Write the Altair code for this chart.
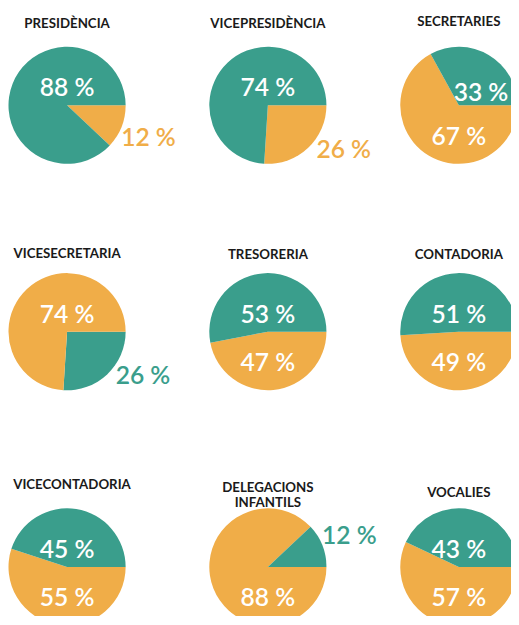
import math
import altair as alt
import pandas as pd

# ---- data ----
panels = [
    ["PRESIDÈNCIA"], ["VICEPRESIDÈNCIA"], ["SECRETARIES"],
    ["VICESECRETARIA"], ["TRESORERIA"], ["CONTADORIA"],
    ["VICECONTADORIA"], ["DELEGACIONS", "INFANTILS"], ["VOCALIES"],
]
teal_pct = [88, 74, 33, 26, 53, 51, 45, 12, 43]
orange_pct = [12, 26, 67, 74, 47, 49, 55, 88, 57]
# which slice is drawn first, clockwise from 3 o'clock
first_slice = ["taronja", "taronja", "taronja", "verd", "taronja",
               "taronja", "taronja", "taronja", "taronja"]

# ---- styles / layout ----
TEAL = "#3a9e8c"
ORANGE = "#f0ad48"
groups = ["verd", "taronja"]
col_widths = [120, 288, 100]
row_heights = [120, 120, 138]
pie_r = 59.5
title_offsets = [16.3, 16.3, 18.3, 12.3, 11.3, 11.0, 7.3, -10.7, -0.7]
title_dx = [0, 0, 0, 0, 0, 0, 5, 0, 0]
SVG_W, SVG_H, TOP = 511, 608, 34

color_scale = alt.Scale(domain=groups, range=[TEAL, ORANGE])
theta_scale = alt.Scale(domain=[0, 100], range=[math.pi / 2, math.pi / 2 + 2 * math.pi])


def label_theta(start, v):
    """Label angle (in data units) for a slice starting at `start` of size v."""
    mid = start + v / 2
    deg = (90 + 3.6 * mid) % 360
    if v >= 40:
        return 75.0 if math.cos(math.radians(deg)) > 0 else 25.0
    deg = min(max(deg, 60), 120)
    return (deg - 90) / 3.6


def kind_of(v):
    if v < 30:
        return "outside"
    if v < 40:
        return "side"
    return "main"


def panel(i):
    vals = {"verd": teal_pct[i], "taronja": orange_pct[i]}
    seq = [first_slice[i]] + [g for g in groups if g != first_slice[i]]
    recs = []
    start = 0
    for k, g in enumerate(seq):
        v = vals[g]
        recs.append(dict(group=g, value=v, order=k, label=f"{v} %",
                         lab_theta=label_theta(start, v), kind=kind_of(v)))
        start += v
    df = pd.DataFrame(recs)
    base = alt.Chart(df)
    arc = base.mark_arc(outerRadius=pie_r).encode(
        theta=alt.Theta("value:Q", stack=True, scale=theta_scale),
        color=alt.Color("group:N", scale=color_scale, legend=None),
        order=alt.Order("order:Q", sort="ascending"),
    )
    txt_kw = dict(font="Lato", fontSize=25, fontWeight=600, baseline="middle", align="center")
    main_txt = base.transform_filter(alt.datum.kind == "main").mark_text(
        radius=24.5, dy=7.5, color="white", **txt_kw
    ).encode(theta=alt.Theta("lab_theta:Q", stack=None, scale=theta_scale), text="label:N")
    side_txt = base.transform_filter(alt.datum.kind == "side").mark_text(
        radius=26, dy=1, color="white", **txt_kw
    ).encode(theta=alt.Theta("lab_theta:Q", stack=None, scale=theta_scale), text="label:N")
    out_txt = base.transform_filter(alt.datum.kind == "outside").mark_text(
        radius=89, dy=1, **txt_kw
    ).encode(
        theta=alt.Theta("lab_theta:Q", stack=None, scale=theta_scale),
        text="label:N",
        color=alt.Color("group:N", scale=color_scale, legend=None),
    )
    title_text = panels[i] if len(panels[i]) > 1 else panels[i][0]
    return alt.layer(arc, main_txt, side_txt, out_txt).properties(
        width=col_widths[i % 3],
        height=row_heights[i // 3],
        title=alt.TitleParams(
            title_text, anchor="middle", frame="group", offset=title_offsets[i],
            dx=title_dx[i], font="Lato", fontSize=13.5, fontWeight="bold",
            color="#1a1a1a", lineHeight=15,
        ),
    )


charts = [panel(i) for i in range(9)]
chart = alt.concat(*charts, columns=3, spacing={"row": 110, "column": 0}, bounds="flush").properties(
    autosize=alt.AutoSizeParams(type="none"),
    padding={"top": TOP, "left": 0, "right": SVG_W, "bottom": SVG_H - TOP},
    background="white",
).configure_view(stroke=None)

chart.save("out.html", embed_options={"renderer": "svg", "actions": False})
